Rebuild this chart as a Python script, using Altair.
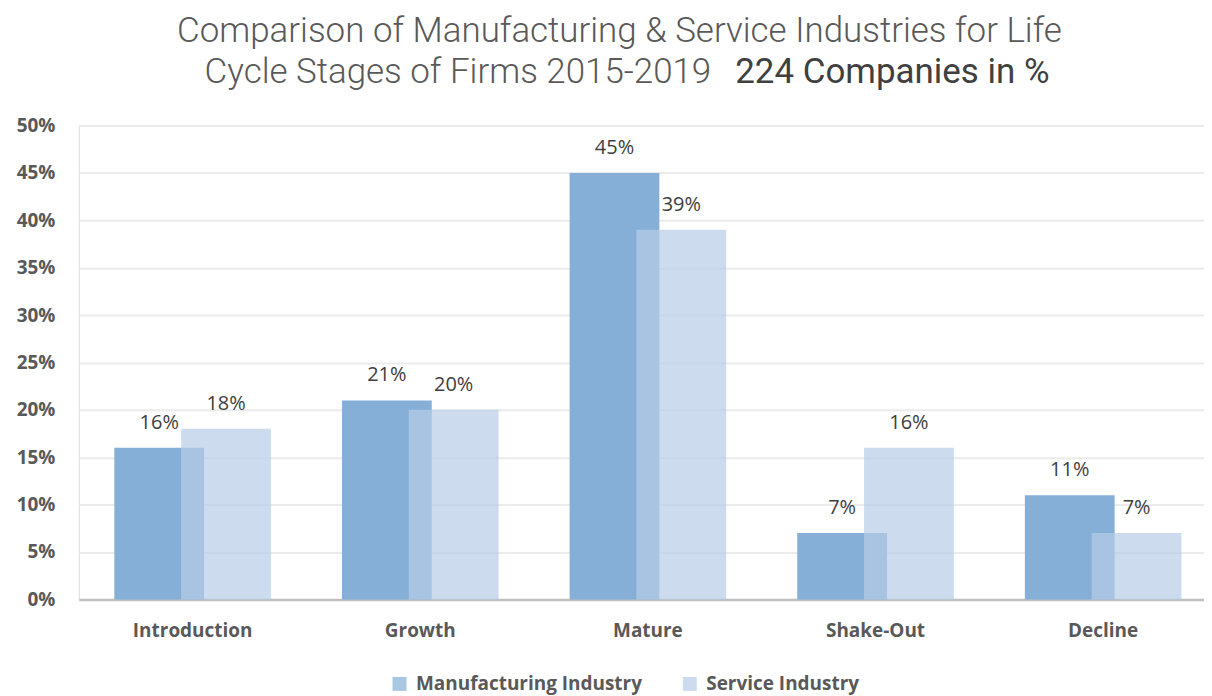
import altair as alt
import pandas as pd

stages = ["Introduction", "Growth", "Mature", "Shake-Out", "Decline"]
manufacturing = [16, 21, 45, 7, 11]
service = [18, 20, 39, 16, 7]
series_names = ["Manufacturing Industry", "Service Industry"]
y_ticks = [0, 5, 10, 15, 20, 25, 30, 35, 40, 45, 50]

title_line1 = "Comparison of Manufacturing & Service Industries for Life"
title_line2a = "Cycle Stages of Firms 2015-2019"
title_line2b = "224 Companies in %"

rows = []
for s, m, v in zip(stages, manufacturing, service):
    rows.append({"stage": s, "series": series_names[0], "value": m})
    rows.append({"stage": s, "series": series_names[1], "value": v})
df = pd.DataFrame(rows)

FONT = "Open Sans"
TFONT = "Roboto"
GREY = "#595959"

x_enc = alt.X(
    "stage:N",
    sort=stages,
    title=None,
    scale=alt.Scale(paddingInner=0, paddingOuter=0, range=[0, 1141]),
    axis=alt.Axis(
        labelAngle=0,
        labelFont=FONT,
        labelFontSize=19,
        labelFontWeight="bold",
        labelColor=GREY,
        labelPadding=22,
        ticks=False,
        domainColor="#BFBFBF",
        domainWidth=2.5,
        grid=False,
    ),
)
y_enc = alt.Y(
    "value:Q",
    title=None,
    scale=alt.Scale(domain=[0, 50], nice=False),
    axis=alt.Axis(
        values=y_ticks,
        labelExpr="datum.value + '%'",
        labelFont=FONT,
        labelFontSize=19,
        labelFontWeight="bold",
        labelColor=GREY,
        labelPadding=24,
        ticks=False,
        domain=False,
        gridColor="#EBEBEB",
        gridWidth=2,
    ),
)
color_enc = alt.Color(
    "series:N",
    scale=alt.Scale(domain=series_names, range=["#85AFD7", "#B6CDE7"]),
    legend=alt.Legend(
        title=None,
        orient="none",
        legendX=312,
        legendY=550,
        direction="horizontal",
        symbolType="square",
        symbolSize=196,
        symbolStrokeWidth=0,
        labelFont=FONT,
        labelFontSize=19,
        labelFontWeight="bold",
        labelColor=GREY,
        labelOffset=7,
        labelLimit=0,
        columnPadding=38,
    ),
)

base = alt.Chart(df).transform_calculate(label="datum.value + '%'")

manu = base.transform_filter(alt.datum.series == series_names[0])
serv = base.transform_filter(alt.datum.series == series_names[1])

bars_m = manu.mark_bar(width=90, xOffset=-33.5).encode(x=x_enc, y=y_enc, color=color_enc)
bars_s = serv.mark_bar(width=90, xOffset=33.5, opacity=0.7).encode(x=x_enc, y=y_enc, color=color_enc)

lbl_kw = dict(font=FONT, fontSize=20, color="#404040", baseline="alphabetic", dy=-19)
text_m = manu.mark_text(xOffset=-33.5, **lbl_kw).encode(x=x_enc, y=y_enc, text="label:N")
text_s = serv.mark_text(xOffset=33.5, **lbl_kw).encode(x=x_enc, y=y_enc, text="label:N")

t1 = alt.Chart(pd.DataFrame({"t": [title_line1]})).mark_text(
    font=TFONT, fontSize=35, fontWeight=300, color=GREY, align="center", baseline="alphabetic"
).encode(x=alt.value(542), y=alt.value(-84), text="t:N")
t2 = alt.Chart(pd.DataFrame({"t": [title_line2a]})).mark_text(
    font=TFONT, fontSize=35, fontWeight=300, color=GREY, align="right", baseline="alphabetic"
).encode(x=alt.value(634), y=alt.value(-43), text="t:N")
t3 = alt.Chart(pd.DataFrame({"t": [title_line2b]})).mark_text(
    font=TFONT, fontSize=35, fontWeight=400, color="#404040", align="left", baseline="alphabetic"
).encode(x=alt.value(658), y=alt.value(-43), text="t:N")

chart = alt.layer(bars_m, bars_s, text_m, text_s, t1, t2, t3).properties(
    width=1128,
    height=475,
    autosize=alt.AutoSizeParams(type="none"),
    padding={"left": 71, "top": 117, "right": 0, "bottom": 96},
).configure_view(stroke=None).configure(background="white")

chart.save("out.html", embed_options={"renderer": "svg", "actions": False})
